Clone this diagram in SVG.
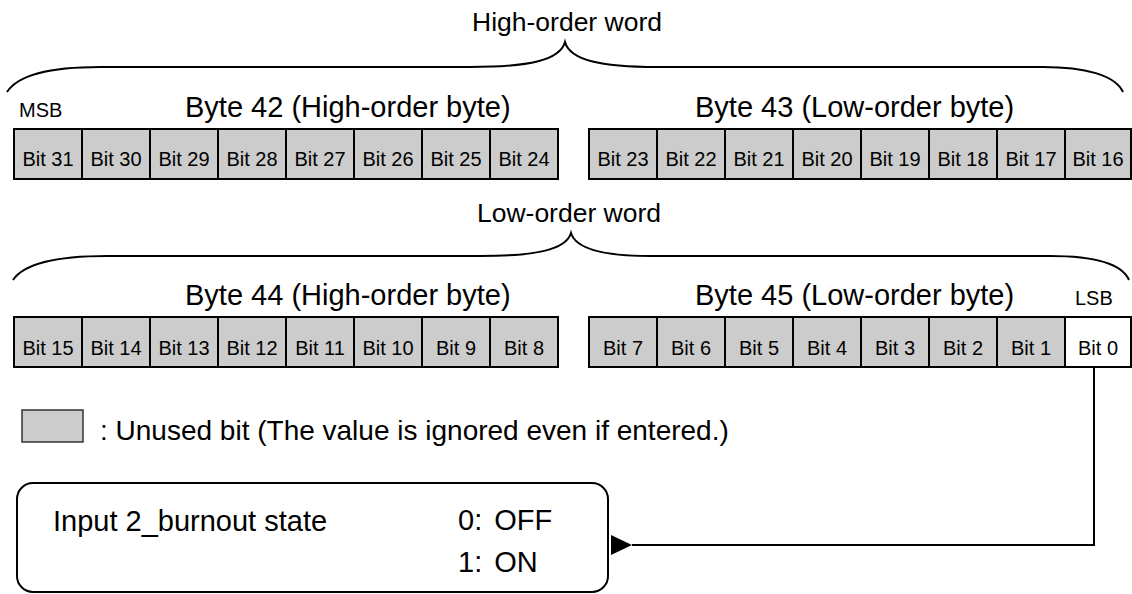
<svg xmlns="http://www.w3.org/2000/svg" width="1132" height="594" viewBox="0 0 1132 594">
<style>
text{font-family:"Liberation Sans",Arial,sans-serif;fill:#000}
.cell{fill:#cccccc;stroke:#000;stroke-width:2}
.w{fill:#fff}
.bit{font-size:20px;text-anchor:middle}
.byte{font-size:29px}
.word{font-size:26.5px;text-anchor:middle}
.sb{font-size:20px}
.big{font-size:29px}
.brace{fill:none;stroke:#000;stroke-width:2}
.conn{fill:none;stroke:#000;stroke-width:2}
</style>
<defs>
<marker id="ah" markerWidth="21" markerHeight="20" refX="0" refY="10" orient="auto" markerUnits="userSpaceOnUse">
<path d="M0,10 L21,0 L21,20 Z" fill="#000"/>
</marker>
</defs>
<g id="braces">
<path class="brace" d="M7,92 C20,72 60,67 100,67 L470,67 C530,67 560,60 565,42 C570,60 600,67 657,67 L1043,67 C1085,67 1115,75 1123,92"/>
<path class="brace" d="M13,280 C25,262 60,256 107,256 L480,256 C535,256 566,250 571,233 C576,250 607,256 650,256 L1050,256 C1095,256 1122,264 1129,280"/>
</g>
<text class="word" x="567" y="31">High-order word</text>
<text class="word" x="569" y="222">Low-order word</text>
<text class="sb" x="19" y="117">MSB</text>
<text class="byte" x="185" y="117">Byte 42 (High-order byte)</text>
<text class="byte" x="695" y="117">Byte 43 (Low-order byte)</text>
<text class="byte" x="185" y="305">Byte 44 (High-order byte)</text>
<text class="byte" x="695" y="305">Byte 45 (Low-order byte)</text>
<text class="sb" x="1075" y="305">LSB</text>
<g id="byte42">
<rect class="cell" x="14" y="129" width="68" height="50"/><text class="bit" x="48" y="166">Bit 31</text>
<rect class="cell" x="82" y="129" width="68" height="50"/><text class="bit" x="116" y="166">Bit 30</text>
<rect class="cell" x="150" y="129" width="68" height="50"/><text class="bit" x="184" y="166">Bit 29</text>
<rect class="cell" x="218" y="129" width="68" height="50"/><text class="bit" x="252" y="166">Bit 28</text>
<rect class="cell" x="286" y="129" width="68" height="50"/><text class="bit" x="320" y="166">Bit 27</text>
<rect class="cell" x="354" y="129" width="68" height="50"/><text class="bit" x="388" y="166">Bit 26</text>
<rect class="cell" x="422" y="129" width="68" height="50"/><text class="bit" x="456" y="166">Bit 25</text>
<rect class="cell" x="490" y="129" width="68" height="50"/><text class="bit" x="524" y="166">Bit 24</text>
</g>
<g id="byte43">
<rect class="cell" x="589" y="129" width="68" height="50"/><text class="bit" x="623" y="166">Bit 23</text>
<rect class="cell" x="657" y="129" width="68" height="50"/><text class="bit" x="691" y="166">Bit 22</text>
<rect class="cell" x="725" y="129" width="68" height="50"/><text class="bit" x="759" y="166">Bit 21</text>
<rect class="cell" x="793" y="129" width="68" height="50"/><text class="bit" x="827" y="166">Bit 20</text>
<rect class="cell" x="861" y="129" width="68" height="50"/><text class="bit" x="895" y="166">Bit 19</text>
<rect class="cell" x="929" y="129" width="68" height="50"/><text class="bit" x="963" y="166">Bit 18</text>
<rect class="cell" x="997" y="129" width="68" height="50"/><text class="bit" x="1031" y="166">Bit 17</text>
<rect class="cell" x="1065" y="129" width="66" height="50"/><text class="bit" x="1098" y="166">Bit 16</text>
</g>
<g id="byte44">
<rect class="cell" x="14" y="317" width="68" height="50"/><text class="bit" x="48" y="355">Bit 15</text>
<rect class="cell" x="82" y="317" width="68" height="50"/><text class="bit" x="116" y="355">Bit 14</text>
<rect class="cell" x="150" y="317" width="68" height="50"/><text class="bit" x="184" y="355">Bit 13</text>
<rect class="cell" x="218" y="317" width="68" height="50"/><text class="bit" x="252" y="355">Bit 12</text>
<rect class="cell" x="286" y="317" width="68" height="50"/><text class="bit" x="320" y="355">Bit 11</text>
<rect class="cell" x="354" y="317" width="68" height="50"/><text class="bit" x="388" y="355">Bit 10</text>
<rect class="cell" x="422" y="317" width="68" height="50"/><text class="bit" x="456" y="355">Bit 9</text>
<rect class="cell" x="490" y="317" width="68" height="50"/><text class="bit" x="524" y="355">Bit 8</text>
</g>
<g id="byte45">
<rect class="cell" x="589" y="317" width="68" height="50"/><text class="bit" x="623" y="355">Bit 7</text>
<rect class="cell" x="657" y="317" width="68" height="50"/><text class="bit" x="691" y="355">Bit 6</text>
<rect class="cell" x="725" y="317" width="68" height="50"/><text class="bit" x="759" y="355">Bit 5</text>
<rect class="cell" x="793" y="317" width="68" height="50"/><text class="bit" x="827" y="355">Bit 4</text>
<rect class="cell" x="861" y="317" width="68" height="50"/><text class="bit" x="895" y="355">Bit 3</text>
<rect class="cell" x="929" y="317" width="68" height="50"/><text class="bit" x="963" y="355">Bit 2</text>
<rect class="cell" x="997" y="317" width="68" height="50"/><text class="bit" x="1031" y="355">Bit 1</text>
<g id="bit0"><rect class="cell w" x="1065" y="317" width="66" height="50"/><text class="bit" x="1098" y="355">Bit 0</text></g>
</g>
<g id="legend">
<rect x="22" y="410" width="61" height="32" fill="#cccccc" stroke="#333" stroke-width="1.5"/>
<text x="100" y="440" font-size="28px">: Unused bit (The value is ignored even if entered.)</text>
</g>
<g id="connectors">
<path class="conn" d="M1094,367 V545 H632" marker-end="url(#ah)"/>
</g>
<g id="state">
<rect x="17" y="483" width="591" height="109" rx="16" ry="16" fill="#fff" stroke="#000" stroke-width="2"/>
<text class="big" x="53" y="531">Input 2_burnout state</text>
<text class="big" x="458" y="530" word-spacing="4">0: OFF</text>
<text class="big" x="458" y="572" word-spacing="4">1: ON</text>
</g>
</svg>
